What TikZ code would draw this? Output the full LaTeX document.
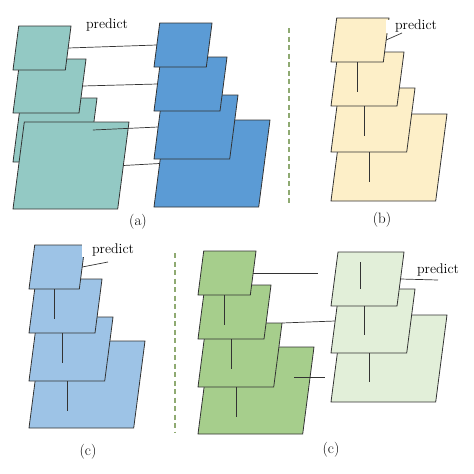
\documentclass[tikz,border=0pt]{standalone}
\usetikzlibrary{shapes.geometric}

\definecolor{tealfill}{HTML}{93C9C4}
\definecolor{bluedeep}{HTML}{5B9BD5}
\definecolor{sandfill}{HTML}{FDEFC8}
\definecolor{skyfill}{HTML}{9DC3E6}
\definecolor{mossfill}{HTML}{A6CE8C}
\definecolor{mintfill}{HTML}{E2EFD9}
\definecolor{edgegray}{HTML}{333333}
\definecolor{sepgreen}{HTML}{8FAA72}

\tikzset{
  slab/.style = {
    trapezium, trapezium left angle=82.6, trapezium right angle=97.4,
    draw=edgegray, line width=0.8pt, inner sep=0pt, outer sep=0pt,
    minimum width=0pt, minimum height=0pt, text depth=0pt,
    anchor=bottom left corner
  },
  lv1/.style = { slab, text width=46.6pt, text height=44pt },
  lv2/.style = { slab, text width=59pt,   text height=54pt },
  lv3/.style = { slab, text width=67.4pt, text height=64pt },
  lv4/.style = { slab, text width=93.4pt, text height=87pt },
  link/.style = { draw=edgegray, line width=0.7pt },
  lbl/.style = { font=\fontsize{14}{16}\selectfont, inner sep=0pt },
  tag/.style = { fill=white, minimum height=13pt },
  caption/.style = { font=\fontsize{15}{17}\selectfont, inner sep=0pt },
  sep/.style = { draw=sepgreen, line width=1.1pt, dash pattern=on 5pt off 3.5pt }
}

\begin{document}
\begin{tikzpicture}[x=1pt, y=-1pt]
  \useasboundingbox (0,0) rectangle (474,474);

  % ------------------------------------------------------------ (a) teal stack
  \node [lv3, fill=tealfill] (teal3) at (13,162) {};
  \node [lv4, fill=tealfill] (teal4) at (13,209) {};
  \node [lv2, fill=tealfill] (teal2) at (13,113) {};
  \node [lv1, fill=tealfill] (teal1) at (13,70)  {};

  % ------------------------------------------------------------ (a) blue stack
  \node [lv4, fill=bluedeep] (blue4) at (154,207) {};
  \node [lv3, fill=bluedeep] (blue3) at (154,159) {};
  \node [lv2, fill=bluedeep] (blue2) at (154,111) {};
  \node [lv1, fill=bluedeep] (blue1) at (154,67)  {};

  \node [lbl]     (predA) at (107,25)  {predict};
  \node [caption] (capA)  at (138,222) {(a)};

  \foreach \i in {1,...,4}
    \draw [link] (teal\i.right side) -- (blue\i.left side);

  % ----------------------------------------------------------- separators
  \draw [sep] (289,28)  -- (289,203);
  \draw [sep] (175,253) -- (175,432);

  % ------------------------------------------------------------ (b) sand stack
  \node [lv4, fill=sandfill] (sand4) at (331,201) {};
  \node [lv3, fill=sandfill] (sand3) at (331,152) {};
  \node [lv2, fill=sandfill] (sand2) at (331,106) {};
  \node [lv1, fill=sandfill] (sand1) at (331,62)  {};

  \node [lbl, tag, minimum width=61pt] (predB) at (416,26) {predict};
  \coordinate (predBend) at (402,33);
  \node [caption] (capB) at (382,220) {(b)};

  \draw [link] (sand1.right side) -- (predBend);
  \foreach \i in {1,2,3}
    \draw [link] (sand\i.bottom side) -- ++(0,30);

  % ------------------------------------------------------------- (c) sky stack
  \node [lv4, fill=skyfill] (sky4) at (29,428) {};
  \node [lv3, fill=skyfill] (sky3) at (29,381) {};
  \node [lv2, fill=skyfill] (sky2) at (29,333) {};
  \node [lv1, fill=skyfill, text width=44.6pt] (sky1) at (29,289) {};

  \node [lbl, tag, minimum width=63pt] (predC) at (113,250) {predict};
  \coordinate (predCend) at (108,262);
  \node [caption] (capC) at (88,452) {(c)};

  \draw [link] (sky1.right side) -- (predCend);
  \foreach \i in {1,2,3}
    \draw [link] (sky\i.bottom side) -- ++(0,30);

  % ------------------------------------------------------------ (c) moss stack
  \node [lv4, fill=mossfill] (moss4) at (198,434) {};
  \node [lv3, fill=mossfill] (moss3) at (198,387) {};
  \node [lv2, fill=mossfill] (moss2) at (198,339) {};
  \node [lv1, fill=mossfill] (moss1) at (198,295) {};

  % ------------------------------------------------------------ (c) mint stack
  \node [lv4, fill=mintfill] (mint3) at (331,402) {};
  \node [lv3, fill=mintfill] (mint2) at (331,353) {};
  \node [lv2, fill=mintfill] (mint1) at (331,306) {};

  \node [lbl] (predD) at (438,270) {predict};
  \coordinate (predDend) at (438,280);
  \node [caption] (capD) at (331,450) {(c)};

  \coordinate (mossTip)  at (318,273);
  \coordinate (mossMid)  at (294,377);
  \coordinate (mintGap)  at (325,377);
  \coordinate (mintTop)  at (360,262);
  \coordinate (mintDown) at (360,289);

  \foreach \i in {1,2,3}
    \draw [link] (moss\i.bottom side) -- ++(0,30);
  \foreach \i in {1,2}
    \draw [link] (mint\i.bottom side) -- ++(0,29);
  \draw [link] (mintTop) -- (mintDown);
  \draw [link] (moss1.right side) -- (mossTip);
  \draw [link] (moss3.top right corner) -- (mint2.left side);
  \draw [link] (mossMid) -- (mintGap);
  \draw [link] (mint1.right side) -- (predDend);

\end{tikzpicture}
\end{document}
